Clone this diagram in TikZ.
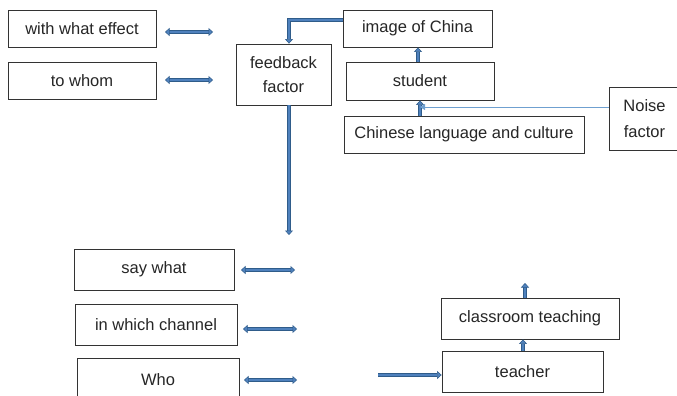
\documentclass[tikz,border=0pt]{standalone}
\usepackage{fontspec}
\setmainfont{Liberation Sans}
\usetikzlibrary{arrows.meta}
\definecolor{arrdark}{HTML}{2F5C8A}
\definecolor{arrfill}{HTML}{4F81BD}
\definecolor{noiseblue}{HTML}{6FA0D0}
\begin{document}
\begin{tikzpicture}[x=1pt,y=-1pt,
  box/.style={draw=black!80,line width=0.8pt,fill=white,inner sep=0pt,font=\fontsize{16.5}{19}\selectfont,text=black!85,align=center},
  blk/.style={draw=arrdark,double=arrfill,double distance=2pt,line width=0.7pt},
  tip/.style={-{Triangle[width=8pt,length=4.5pt,fill=arrfill,color=arrdark,line width=0.5pt]}},
  twotip/.style={{Triangle[width=8pt,length=4.5pt,fill=arrfill,color=arrdark,line width=0.5pt]}-{Triangle[width=8pt,length=4.5pt,fill=arrfill,color=arrdark,line width=0.5pt]}}
]
\useasboundingbox (0,0) rectangle (677,396);
\begin{scope}
\clip (0,0) rectangle (677,396);
% boxes
\node[box,minimum width=148pt,minimum height=37pt] (effect) at (82,28.5) {with what effect};
\node[box,minimum width=148pt,minimum height=37pt] (whom) at (82,80.5) {to whom};
\node[box,minimum width=95pt,minimum height=61pt] (feedback) at (283.5,74.5) {feedback\\[5pt]factor};
\node[box,minimum width=149pt,minimum height=37pt] (china) at (417.5,28.5) {image of China};
\node[box,minimum width=148pt,minimum height=38pt] (student) at (420,81) {student};
\node[box,minimum width=240pt,minimum height=37pt] (culture) at (464,134.5) {Chinese language and culture};
\node[box,minimum width=71pt,minimum height=63pt] (noise) at (644.5,118.5) {Noise\\[7pt]factor};
\node[box,minimum width=160pt,minimum height=41pt] (saywhat) at (154,269.5) {say what};
\node[box,minimum width=162pt,minimum height=41pt] (channel) at (156,324.5) {in which channel};
\node[box,minimum width=162pt,minimum height=44pt] (who) at (158,380) {Who};
\node[box,minimum width=178pt,minimum height=41pt] (classroom) at (530,318.5) {classroom teaching};
\node[box,minimum width=161pt,minimum height=41pt] (teacher) at (522.5,371.5) {teacher};
% free-end coordinates
\coordinate (e1) at (165,32); \coordinate (e2) at (213,32);
\coordinate (w1) at (165,80); \coordinate (w2) at (213,80);
\coordinate (fbend) at (289,20);
\coordinate (fbdown) at (289,235);
\coordinate (s1) at (241,270); \coordinate (s2) at (295,270);
\coordinate (c1) at (243,329); \coordinate (c2) at (297,329);
\coordinate (h1) at (244,380); \coordinate (h2) at (297,380);
\coordinate (tin) at (378,375);
\coordinate (ctop) at (525,283);
\coordinate (nend) at (420,107);
% arrows
\draw[blk,twotip] (e1) -- (e2);
\draw[blk,twotip] (w1) -- (w2);
\draw[blk,tip] (china.west |- fbend) -- (fbend) -- (feedback.north -| fbend);
\draw[blk,tip] (feedback.south -| fbend) -- (fbdown);
\draw[blk,tip] ([xshift=-2pt]student.north) -- ([xshift=0.5pt]china.south);
\draw[blk,tip] ([xshift=-44pt]culture.north) -- (student.south);
\draw[noiseblue,line width=0.8pt,-{Triangle[width=6pt,length=5pt]}] (noise.west |- nend) -- (nend);
\draw[blk,twotip] (s1) -- (s2);
\draw[blk,twotip] (c1) -- (c2);
\draw[blk,twotip] (h1) -- (h2);
\draw[blk,tip] (tin) -- (teacher.west |- tin);
\draw[blk,tip] ([xshift=0.5pt]teacher.north) -- ([xshift=-7pt]classroom.south);
\draw[blk,tip] (classroom.north -| ctop) -- (ctop);
\end{scope}
\end{tikzpicture}
\end{document}
